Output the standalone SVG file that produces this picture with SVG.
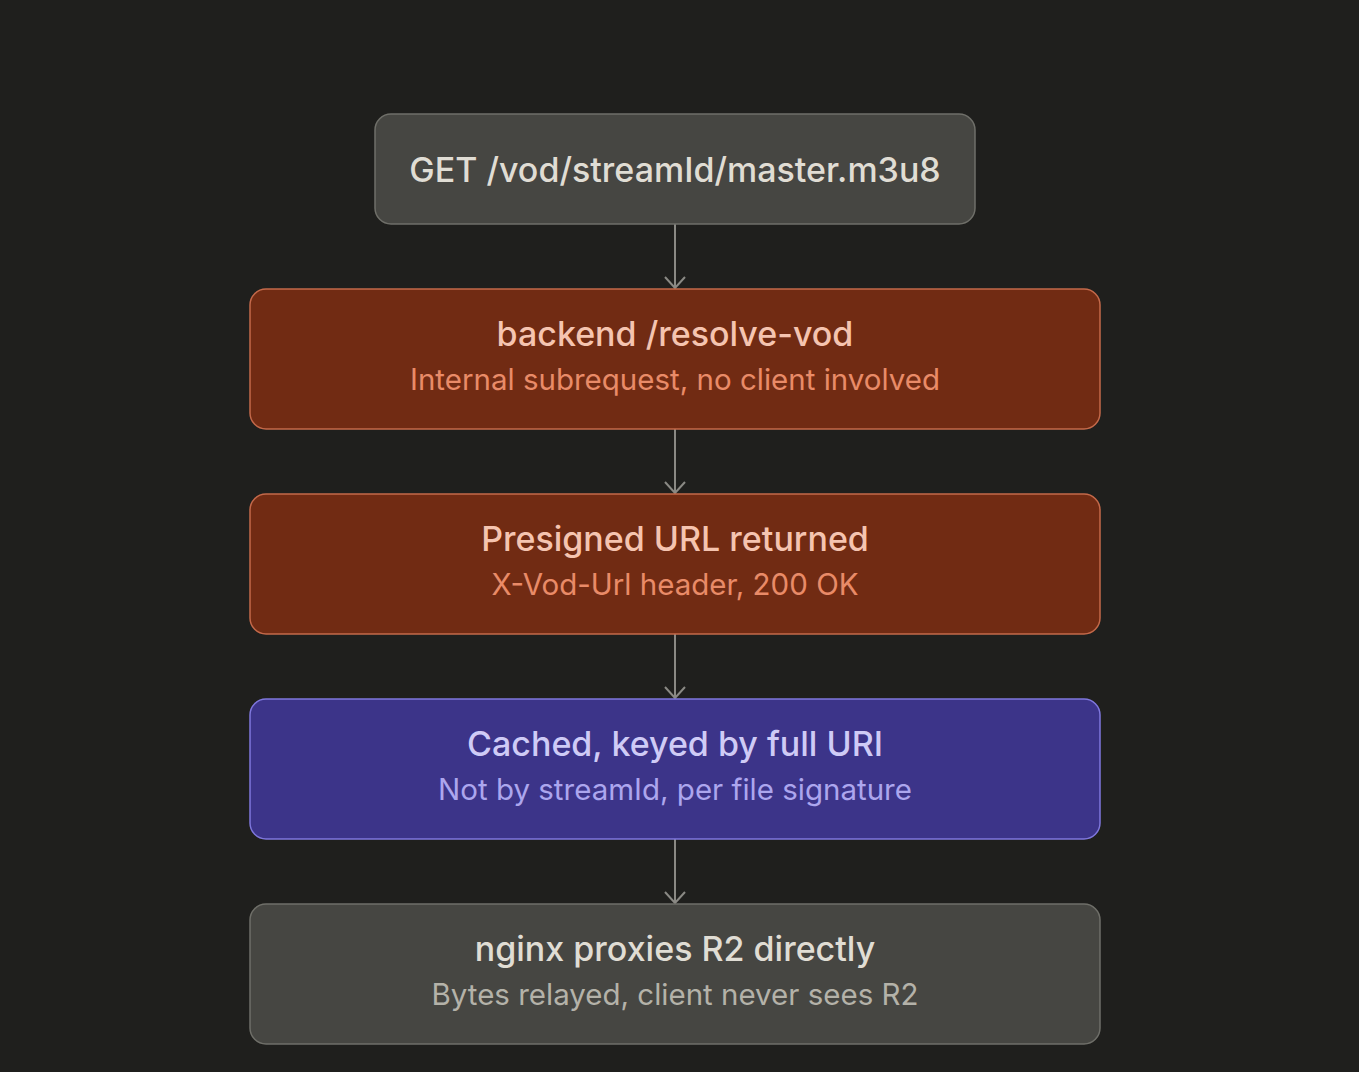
<svg xmlns="http://www.w3.org/2000/svg" width="1359" height="1072" viewBox="0 0 1359 1072">
<defs>
<marker id="arr" viewBox="0 0 14 22" refX="12" refY="11" markerWidth="14" markerHeight="22" markerUnits="userSpaceOnUse" orient="auto">
<path d="M1 1 L12 11 L1 21" fill="none" stroke="#8a8984" stroke-width="2"/>
</marker>
<style>
text{font-family:Inter,"Liberation Sans",sans-serif;text-anchor:middle}
.t{font-size:34px;font-weight:500}
.s{font-size:29.5px;font-weight:400}
.gray rect{fill:#464642;stroke:#6f6f69;stroke-width:1.5}
.gray .t{fill:#e0ddd4}
.gray .s{fill:#b4b2a9}
.org rect{fill:#712b13;stroke:#c4694a;stroke-width:1.5}
.org .t{fill:#f5c4b0}
.org .s{fill:#e98b68}
.pur rect{fill:#3c3489;stroke:#7f77dd;stroke-width:1.5}
.pur .t{fill:#cfcbf6}
.pur .s{fill:#aca6ee}
.c line{stroke:#8a8984;stroke-width:2;marker-end:url(#arr)}
</style>
</defs>
<rect width="1359" height="1072" fill="#1f1f1d"/>
<g class="c" id="connectors">
<line x1="675" y1="224" x2="675" y2="288"/>
<line x1="675" y1="429" x2="675" y2="493"/>
<line x1="675" y1="634" x2="675" y2="698"/>
<line x1="675" y1="839" x2="675" y2="903"/>
</g>
<g id="n1" class="gray">
<rect x="375" y="114" width="600" height="110" rx="16"/>
<text class="t" x="675" y="182">GET /vod/streamId/master.m3u8</text>
</g>
<g id="n2" class="org">
<rect x="250" y="289" width="850" height="140" rx="16"/>
<text class="t" x="675" y="346">backend /resolve-vod</text>
<text class="s" x="675" y="390">Internal subrequest, no client involved</text>
</g>
<g id="n3" class="org">
<rect x="250" y="494" width="850" height="140" rx="16"/>
<text class="t" x="675" y="551">Presigned URL returned</text>
<text class="s" x="675" y="595">X-Vod-Url header, 200 OK</text>
</g>
<g id="n4" class="pur">
<rect x="250" y="699" width="850" height="140" rx="16"/>
<text class="t" x="675" y="756">Cached, keyed by full URI</text>
<text class="s" x="675" y="800">Not by streamId, per file signature</text>
</g>
<g id="n5" class="gray">
<rect x="250" y="904" width="850" height="140" rx="16"/>
<text class="t" x="675" y="961">nginx proxies R2 directly</text>
<text class="s" x="675" y="1005">Bytes relayed, client never sees R2</text>
</g>
</svg>
